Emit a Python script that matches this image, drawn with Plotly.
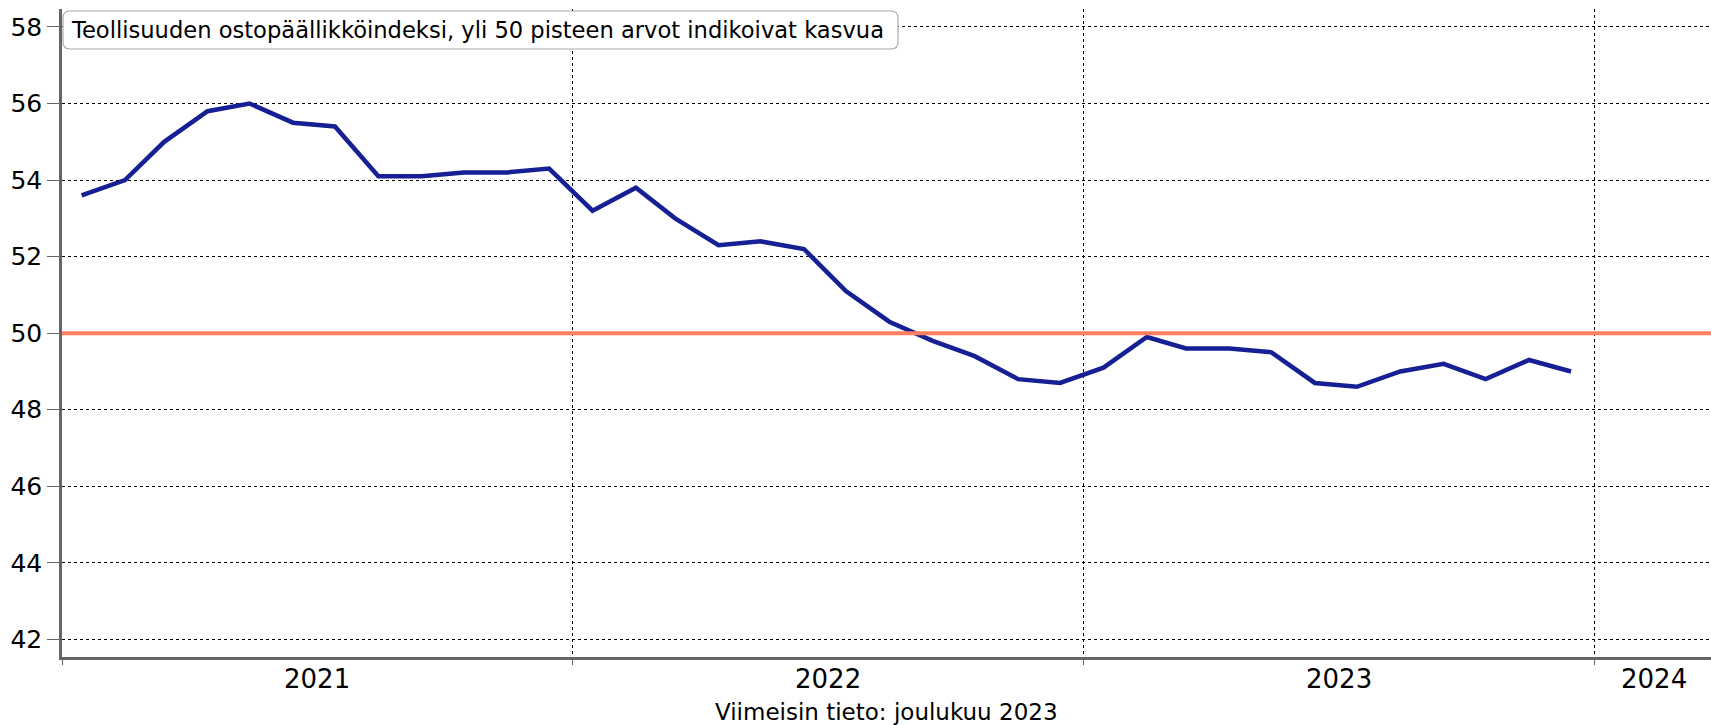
import plotly.graph_objects as go

# --- Data ---
months = [f"{y}-{m:02d}-15" for y in (2021, 2022, 2023) for m in range(1, 13)]
pmi = [53.6, 54.0, 55.0, 55.8, 56.0, 55.5, 55.4, 54.1, 54.1, 54.2, 54.2, 54.3,
       53.2, 53.8, 53.0, 52.3, 52.4, 52.2, 51.1, 50.3, 49.8, 49.4, 48.8, 48.7,
       49.1, 49.9, 49.6, 49.6, 49.5, 48.7, 48.6, 49.0, 49.2, 48.8, 49.3, 49.0]
year_labels = ['2021', '2022', '2023', '2024']
year_label_pos = ['2021-07-02', '2022-07-02', '2023-07-02', '2024-02-12']
year_starts = ['2021-01-01', '2022-01-01', '2023-01-01', '2024-01-01']
y_ticks = [42, 44, 46, 48, 50, 52, 54, 56, 58]

TITLE = 'Teollisuuden ostopäällikköindeksi, yli 50 pisteen arvot indikoivat kasvua'
FOOTER = 'Viimeisin tieto: joulukuu 2023'

LINE_COLOR = '#161f93'
REF_COLOR = '#ff7f5f'
AXIS_COLOR = '#666666'
FONT = 'DejaVu Sans, Verdana, sans-serif'

fig = go.Figure()

fig.add_trace(go.Scatter(
    x=months, y=pmi, mode='lines',
    line=dict(color=LINE_COLOR, width=4.5),
    showlegend=False,
))

# 50 reference line
fig.add_hline(y=50, line=dict(color=REF_COLOR, width=4), layer='above')

# rounded title box (pixel sized, anchored to top-left of plot area)
r = 7
w, h = 835, 38
x0, y0 = 1, -2
box_path = (f"M{x0 + r},{y0} L{x0 + w - r},{y0} Q{x0 + w},{y0} {x0 + w},{y0 - r} "
            f"L{x0 + w},{y0 - h + r} Q{x0 + w},{y0 - h} {x0 + w - r},{y0 - h} "
            f"L{x0 + r},{y0 - h} Q{x0},{y0 - h} {x0},{y0 - h + r} "
            f"L{x0},{y0 - r} Q{x0},{y0} {x0 + r},{y0} Z")
fig.add_shape(type='path', path=box_path, xref='paper', yref='paper',
              xsizemode='pixel', ysizemode='pixel', xanchor=0, yanchor=1,
              fillcolor='white', line=dict(color='#aaaaaa', width=1.2),
              layer='above')

annotations = [
    dict(text=TITLE, xref='paper', yref='paper', x=0, y=1,
         xshift=7, yshift=-21, xanchor='left', yanchor='middle', showarrow=False,
         font=dict(size=22.6, color='black', family=FONT)),
    dict(text=FOOTER, xref='paper', yref='paper', x=0.5, y=0, yshift=-55,
         xanchor='center', yanchor='middle', showarrow=False,
         font=dict(size=23, color='black', family=FONT)),
]
for lbl, pos in zip(year_labels, year_label_pos):
    annotations.append(dict(
        text=lbl, x=pos, xref='x', y=0, yref='paper', yshift=-22,
        xanchor='center', yanchor='middle', showarrow=False,
        font=dict(size=26, color='black', family=FONT)))

fig.update_layout(
    width=1711, height=725,
    margin=dict(l=62, r=0, t=9, b=68),
    paper_bgcolor='white', plot_bgcolor='white',
    font=dict(family=FONT, color='black'),
    annotations=annotations,
    xaxis=dict(
        range=['2021-01-01', '2024-03-24'],
        tickvals=year_starts, ticktext=['', '', '', ''],
        showgrid=True, gridcolor='black', gridwidth=1, griddash='dot',
        ticks='outside', ticklen=5, tickcolor=AXIS_COLOR,
        showline=True, linecolor=AXIS_COLOR, linewidth=3,
        zeroline=False, fixedrange=True,
    ),
    yaxis=dict(
        range=[41.54, 58.47],
        tickvals=y_ticks,
        showgrid=True, gridcolor='black', gridwidth=1, griddash='dot',
        ticks='outside', ticklen=12, tickcolor=AXIS_COLOR,
        showline=True, linecolor=AXIS_COLOR, linewidth=2.5,
        tickfont=dict(size=25, color='black'),
        zeroline=False, fixedrange=True,
    ),
)

# drop the default page margin so the figure sits at the window's corner
fig.write_html("out.html", config={'displayModeBar': False},
               post_script="document.body.style.margin='0';")
